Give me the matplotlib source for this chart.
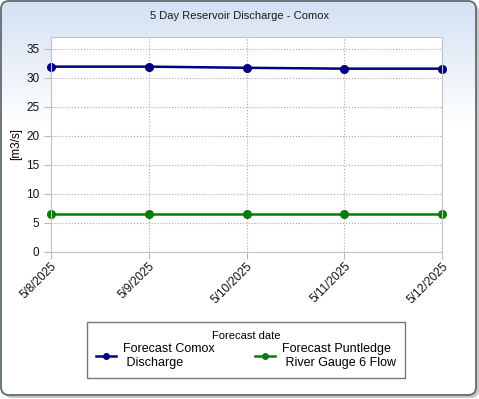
import matplotlib
matplotlib.use('Agg')
import matplotlib.pyplot as plt
import numpy as np
from datetime import datetime
from matplotlib.patches import FancyBboxPatch
from matplotlib.lines import Line2D

dates = [datetime(2025, 5, d) for d in (8, 9, 10, 11, 12)]
date_labels = ['5/8/2025', '5/9/2025', '5/10/2025', '5/11/2025', '5/12/2025']
comox = [31.9, 31.9, 31.7, 31.55, 31.55]
puntledge = [6.6, 6.6, 6.6, 6.6, 6.6]

plt.rcParams['font.family'] = ['Liberation Sans', 'DejaVu Sans']

fig = plt.figure(figsize=(4.79, 3.99), dpi=100)
fig.patch.set_facecolor('white')

# background gradient + rounded frame with shadow
bg = fig.add_axes([0, 0, 1, 1], zorder=-10)
bg.set_xlim(0, 479)
bg.set_ylim(399, 0)
bg.axis('off')
shadow = FancyBboxPatch((4, 4), 475, 394, boxstyle='round,pad=0,rounding_size=8',
                        facecolor='#c8c8c8', edgecolor='none', zorder=0)
bg.add_patch(shadow)
grad = np.linspace(0, 1, 400).reshape(-1, 1)
top = np.array([0.83, 0.88, 0.95])
bot = np.array([1.0, 1.0, 1.0])
img = top + (bot - top) * np.clip(grad * 3.2, 0, 1)
img = img[:, None, :].repeat(2, axis=1)
im = bg.imshow(img, extent=(1, 476, 395, 1), aspect='auto', zorder=1)
frame = FancyBboxPatch((1, 1), 475, 394, boxstyle='round,pad=0,rounding_size=8',
                       facecolor='none', edgecolor='#5f6a72', linewidth=1.3, zorder=3)
bg.add_patch(frame)
im.set_clip_path(frame)

fig.text(0.5, 1 - 16 / 399, '5 Day Reservoir Discharge - Comox', ha='center', va='center',
         fontsize=8, color='#1a1a1a')

ax = fig.add_axes([51 / 479, 1 - 252 / 399, (442 - 51) / 479, (252 - 37) / 399])
ax.set_facecolor('white')
ax.plot(dates, comox, color='#000080', linewidth=1.8, marker='o', markersize=5.5, clip_on=False)
ax.plot(dates, puntledge, color='#0a7a0a', linewidth=1.8, marker='o', markersize=5.5, clip_on=False)

ax.set_xlim(dates[0], dates[-1])
ax.set_ylim(0, 37)
ax.set_yticks(range(0, 36, 5))
ax.set_xticks(dates)
ax.set_xticklabels(date_labels, rotation=45, ha='right', va='top', rotation_mode='anchor')
ax.tick_params(axis='both', labelsize=8.5, length=5, color='#bbbbbb', labelcolor='#111111')
ax.tick_params(axis='x', pad=1)
ax.grid(True, linestyle=':', color='#aaaaaa', linewidth=0.8)
for s in ax.spines.values():
    s.set_color('#c0c4c8')
ax.set_ylabel('[m3/s]', fontsize=8.5, labelpad=3)

handles = [Line2D([], [], color='#000080', marker='o', markersize=4, linewidth=1.8),
           Line2D([], [], color='#0a7a0a', marker='o', markersize=4, linewidth=1.8)]
leg = fig.legend(handles, ['Forecast Comox\n Discharge', 'Forecast Puntledge\n River Gauge 6 Flow'],
                 loc='center', bbox_to_anchor=(246 / 479, 1 - 350 / 399), ncol=2,
                 title='Forecast date', fontsize=9, title_fontsize=8, fancybox=False,
                 edgecolor='#707880', framealpha=1, handlelength=1.6, handletextpad=0.6,
                 columnspacing=3.2, borderpad=0.7, labelspacing=0.2)
leg.get_frame().set_linewidth(1)

fig.savefig('out.png', dpi=100)
